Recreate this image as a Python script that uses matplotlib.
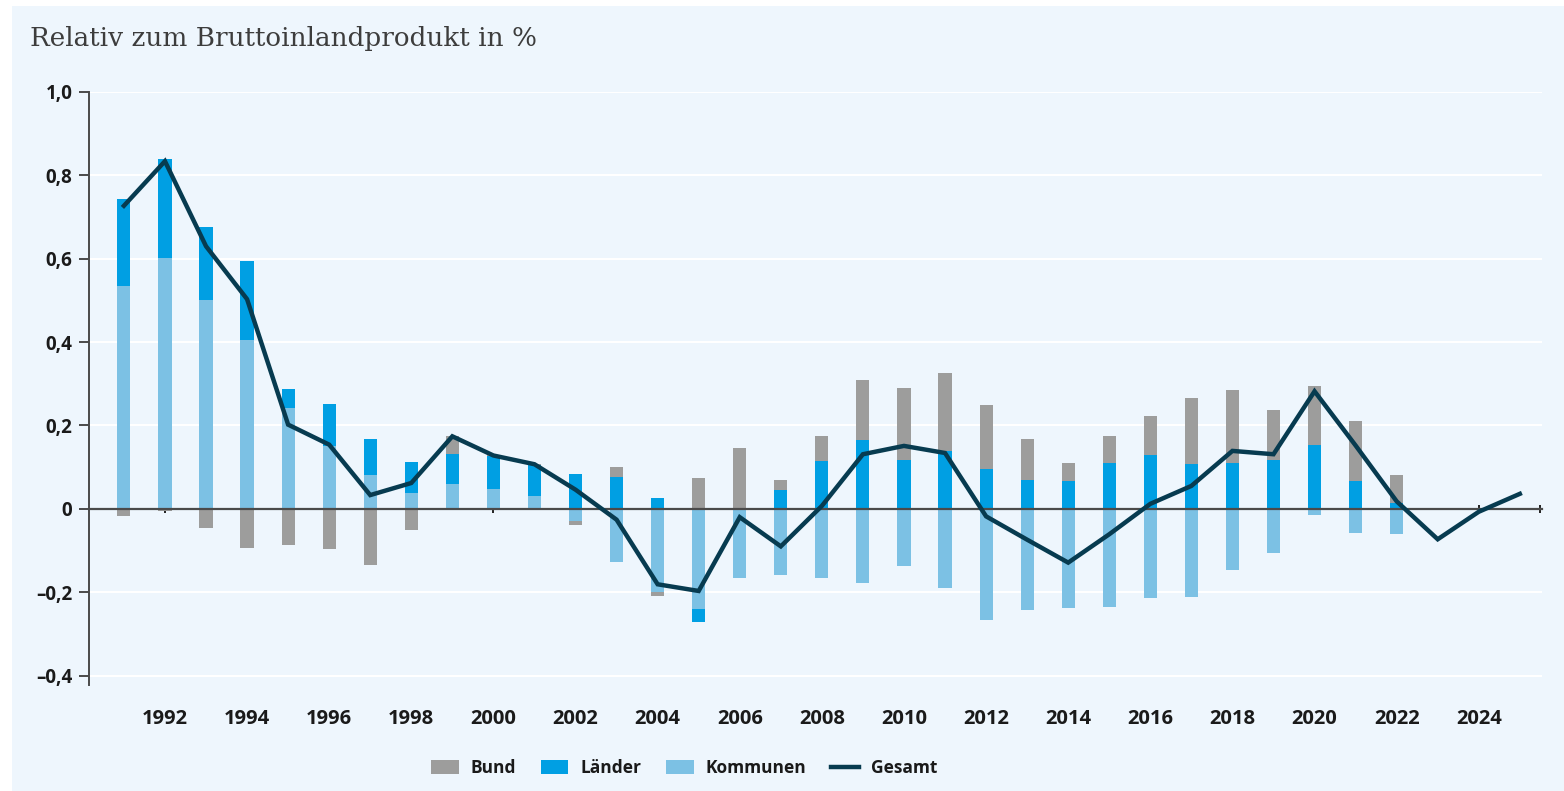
import numpy as np
import matplotlib.pyplot as plt
from matplotlib.patches import Patch, Rectangle
from matplotlib.lines import Line2D

# values (share of GDP in %)
barYears = list(range(1991, 2023))
kommunen = [0.535, 0.602, 0.500, 0.404, 0.242, 0.150, 0.081, 0.038, 0.059, 0.048,
            0.031, -0.030, -0.127, -0.200, -0.240, -0.167, -0.158, -0.167, -0.179, -0.138,
            -0.191, -0.267, -0.242, -0.238, -0.236, -0.213, -0.211, -0.146, -0.106, -0.014,
            -0.058, -0.061]
laender = [0.209, 0.238, 0.175, 0.191, 0.046, 0.101, 0.086, 0.074, 0.073, 0.078,
           0.075, 0.084, 0.077, 0.026, -0.032, 0.0, 0.046, 0.115, 0.166, 0.118,
           0.139, 0.095, 0.069, 0.066, 0.111, 0.130, 0.108, 0.111, 0.118, 0.154,
           0.067, 0.014]
bund = [-0.018, -0.005, -0.046, -0.094, -0.086, -0.097, -0.134, -0.050, 0.042, 0.002,
        0.001, -0.008, 0.024, -0.008, 0.074, 0.146, 0.023, 0.059, 0.144, 0.171,
        0.186, 0.153, 0.099, 0.044, 0.064, 0.092, 0.158, 0.173, 0.119, 0.141,
        0.143, 0.068]
lineYears = list(range(1991, 2026))
gesamt = [0.727, 0.834, 0.630, 0.503, 0.202, 0.154, 0.033, 0.062, 0.174, 0.128,
          0.107, 0.046, -0.026, -0.181, -0.197, -0.020, -0.090, 0.007, 0.131, 0.151,
          0.134, -0.018, -0.074, -0.129, -0.061, 0.012, 0.055, 0.139, 0.131, 0.282,
          0.152, 0.018, -0.073, -0.007, 0.036]

yTicks = [-0.4, -0.2, 0, 0.2, 0.4, 0.6, 0.8, 1.0]
yTickLabels = ['\u20130,4', '\u20130,2', '0', '0,2', '0,4', '0,6', '0,8', '1,0']
xTicks = list(range(1992, 2025, 2))

cBund = '#9d9d9c'
cLaender = '#009fe3'
cKommunen = '#7cc1e4'
cGesamt = '#073b50'
cBack = '#eef6fd'
cAxis = '#4a4a4a'
tickFont = 'Open Sans'

W, H = 1564, 791
fig = plt.figure(figsize=(W / 100, H / 100), dpi=100, facecolor='white')
fig.patches.append(Rectangle((12 / W, 0), 1 - 12 / W, 1 - 6 / H, transform=fig.transFigure,
                             facecolor=cBack, edgecolor='none', zorder=-10))

ax = fig.add_axes([89 / W, 1 - 685 / H, (1542 - 89) / W, (685 - 92) / H])
ax.set_facecolor('none')

# stack Kommunen, Länder, Bund separately above and below zero
posBase = np.zeros(len(barYears))
negBase = np.zeros(len(barYears))
for vals, col in [(kommunen, cKommunen), (laender, cLaender), (bund, cBund)]:
    vals = np.array(vals)
    base = np.where(vals >= 0, posBase, negBase)
    ax.bar(barYears, vals, width=0.32, bottom=base, color=col, zorder=2)
    posBase += np.clip(vals, 0, None)
    negBase += np.clip(vals, None, 0)

ax.plot(lineYears, gesamt, color=cGesamt, lw=3.2, zorder=4, solid_joinstyle='miter')

xMin, xMax = 1990.15, 2025.54
ax.set_xlim(xMin, xMax)
ax.set_ylim(-0.4226, 1.0)
ax.set_yticks(yTicks)
ax.set_yticklabels(yTickLabels)
ax.grid(axis='y', color='white', lw=1.5, zorder=0)
ax.set_axisbelow(True)

for s in ['top', 'right']:
    ax.spines[s].set_visible(False)
ax.spines['left'].set_color(cAxis)
ax.spines['left'].set_linewidth(1.4)
ax.spines['bottom'].set_position(('data', 0))
ax.spines['bottom'].set_bounds(xMin, xMax)
ax.spines['bottom'].set_color(cAxis)
ax.spines['bottom'].set_linewidth(1.6)
ax.spines['bottom'].set_zorder(3)

ax.set_xticks(xTicks)
ax.set_xticks([xMax - 0.05], minor=True)
ax.tick_params(axis='x', which='both', direction='inout', length=6, width=1.4,
               color='#222222', labelbottom=False)
ax.tick_params(axis='y', direction='out', length=7, width=1.4, color=cAxis, pad=5,
               labelsize=13.5, labelcolor='#1a1a1a')
for lab in ax.get_yticklabels():
    lab.set_fontfamily(tickFont)
    lab.set_fontweight('bold')

sec = ax.secondary_xaxis(0)
sec.spines['bottom'].set_visible(False)
sec.set_xticks(xTicks)
sec.set_xticklabels([str(y) for y in xTicks])
sec.tick_params(length=0, pad=17, labelsize=14.5, labelcolor='#1a1a1a')
for lab in sec.get_xticklabels():
    lab.set_fontfamily(tickFont)
    lab.set_fontweight('bold')

fig.text(30 / W, 1 - 46 / H, 'Relativ zum Bruttoinlandprodukt in %', family='DejaVu Serif',
         fontsize=18.9, color='#3d3d3d', va='baseline', ha='left')

handles = [Patch(facecolor=cBund, label='Bund'),
           Patch(facecolor=cLaender, label='Länder'),
           Patch(facecolor=cKommunen, label='Kommunen'),
           Line2D([0], [0], color=cGesamt, lw=3.2, label='Gesamt')]
leg = fig.legend(handles=handles, loc='center', bbox_to_anchor=(684 / W, 1 - 768 / H), ncol=4,
                 frameon=False, handlelength=1.6, handleheight=0.85, handletextpad=0.7,
                 columnspacing=1.4, prop={'family': tickFont, 'weight': 'bold', 'size': 12.5})
for t in leg.get_texts():
    t.set_color('#1a1a1a')

fig.savefig('out.png', dpi=100, facecolor=fig.get_facecolor())
